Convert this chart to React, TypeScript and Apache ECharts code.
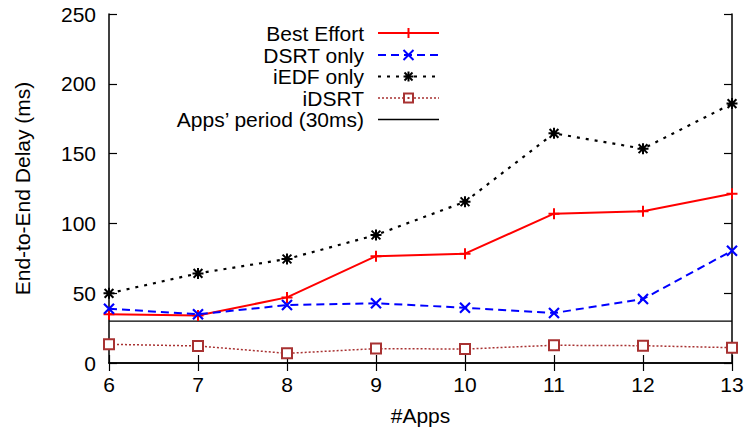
import React, { useEffect, useRef } from "react";
import * as echarts from "echarts";

const apps = [6, 7, 8, 9, 10, 11, 12, 13];
const bestEffort = [35, 34, 47, 76.5, 78.3, 107, 108.7, 121.2];
const dsrtOnly = [38.9, 34.9, 41.5, 42.8, 39.6, 35.8, 45.8, 80.4];
const iedfOnly = [49.9, 64.2, 74.5, 91.7, 115.5, 164.5, 153.5, 185.8];
const idsrt = [13.4, 12.2, 6.9, 10.3, 10, 12.7, 12.4, 11];
const period = 30;
const yTicks = { min: 0, max: 250, interval: 50 };
const seriesNames = ["Best Effort", "DSRT only", "iEDF only", "iDSRT", "Apps\u2019 period (30ms)"];

const FONT = "Liberation Sans, Arial, Helvetica, sans-serif";
const FS = 21;
const RED = "#ff0000";
const BLUE = "#0000ff";
const BLACK = "#000000";
const BROWN = "#a83232";

const PLUS = "path://M5,0 L5,10 M0,5 L10,5";
const CROSS = "path://M0,0 L10,10 M10,0 L0,10";
const STAR = "path://M5,0 L5,10 M0,5 L10,5 M1,1 L9,9 M9,1 L1,9";

function pairs(vals: number[]) {
  return apps.map((x, i) => [x, vals[i]]);
}

function legendGraphics() {
  const right = 364;
  const x1 = 378;
  const x2 = 439;
  const cx = 408.5;
  const rows = [33, 55, 76.5, 98, 119.5];
  const els: any[] = [];
  const styles = [
    { stroke: RED, lineWidth: 2, lineDash: null },
    { stroke: BLUE, lineWidth: 2, lineDash: [8, 5] },
    { stroke: BLACK, lineWidth: 2.2, lineDash: [3, 6] },
    { stroke: BROWN, lineWidth: 1.5, lineDash: [2, 2] },
    { stroke: BLACK, lineWidth: 1.3, lineDash: null },
  ];
  rows.forEach((y, i) => {
    els.push({
      type: "text",
      x: right,
      y,
      style: {
        text: seriesNames[i],
        fill: "#000",
        font: `${FS}px ${FONT}`,
        textAlign: "right",
        textVerticalAlign: "middle",
      },
    });
    els.push({
      type: "line",
      shape: { x1, y1: y, x2, y2: y },
      style: { stroke: styles[i].stroke, lineWidth: styles[i].lineWidth, lineDash: styles[i].lineDash },
    });
  });
  const s = 5;
  const mk = (a: number, b: number, c: number, d: number, stroke: string) => ({
    type: "line",
    shape: { x1: a, y1: b, x2: c, y2: d },
    style: { stroke, lineWidth: 2 },
  });
  els.push(mk(cx, rows[0] - s, cx, rows[0] + s, RED));
  els.push(mk(cx - s, rows[1] - s, cx + s, rows[1] + s, BLUE));
  els.push(mk(cx + s, rows[1] - s, cx - s, rows[1] + s, BLUE));
  els.push(mk(cx, rows[2] - s, cx, rows[2] + s, BLACK));
  els.push(mk(cx - s, rows[2], cx + s, rows[2], BLACK));
  els.push(mk(cx - 4, rows[2] - 4, cx + 4, rows[2] + 4, BLACK));
  els.push(mk(cx + 4, rows[2] - 4, cx - 4, rows[2] + 4, BLACK));
  els.push({
    type: "rect",
    shape: { x: cx - 4.5, y: rows[3] - 4.5, width: 9, height: 9 },
    style: { fill: "#fff", stroke: BROWN, lineWidth: 2 },
  });
  els.push({
    type: "rect",
    shape: { x: cx - 1, y: rows[3] - 1, width: 2, height: 2 },
    style: { fill: BROWN },
  });
  return els;
}

export default function App() {
  const ref = useRef<HTMLDivElement>(null);
  useEffect(() => {
    if (!ref.current) return;
    const chart = echarts.init(ref.current, undefined, { renderer: "svg" });
    const axisLine = { show: true, lineStyle: { color: "#000", width: 1.5 } };
    const tick = { show: true, inside: true, length: 8, lineStyle: { color: "#000", width: 1.2 } };
    const label = { color: "#000", fontSize: FS, fontFamily: FONT };
    chart.setOption({
      animation: false,
      backgroundColor: "#fff",
      grid: { left: 109, right: 19, top: 14, bottom: 74, containLabel: false },
      xAxis: [
        {
          type: "value",
          min: 6,
          max: 13,
          interval: 1,
          name: "#Apps",
          nameLocation: "middle",
          nameGap: 42,
          nameTextStyle: { color: "#000", fontSize: FS, fontFamily: FONT },
          axisLine,
          axisTick: tick,
          axisLabel: { ...label, margin: 11 },
          splitLine: { show: false },
        },
        {
          type: "value",
          position: "top",
          min: 6,
          max: 13,
          interval: 1,
          axisLine,
          axisTick: tick,
          axisLabel: { show: false },
          splitLine: { show: false },
        },
      ],
      yAxis: [
        {
          type: "value",
          min: yTicks.min,
          max: yTicks.max,
          interval: yTicks.interval,
          name: "End-to-End Delay (ms)",
          nameLocation: "middle",
          nameGap: 76,
          nameRotate: 90,
          nameTextStyle: { color: "#000", fontSize: FS, fontFamily: FONT },
          axisLine,
          axisTick: tick,
          axisLabel: { ...label, margin: 13 },
          splitLine: { show: false },
        },
        {
          type: "value",
          position: "right",
          min: yTicks.min,
          max: yTicks.max,
          interval: yTicks.interval,
          axisLine,
          axisTick: tick,
          axisLabel: { show: false },
          splitLine: { show: false },
        },
      ],
      series: [
        {
          name: seriesNames[0],
          type: "line",
          data: pairs(bestEffort),
          symbol: PLUS,
          symbolSize: 11,
          lineStyle: { color: RED, width: 2 },
          itemStyle: { color: RED, borderColor: RED, borderWidth: 2 },
          z: 3,
        },
        {
          name: seriesNames[1],
          type: "line",
          data: pairs(dsrtOnly),
          symbol: CROSS,
          symbolSize: 10,
          lineStyle: { color: BLUE, width: 2, type: [8, 5] },
          itemStyle: { color: BLUE, borderColor: BLUE, borderWidth: 2.2 },
          z: 4,
        },
        {
          name: seriesNames[2],
          type: "line",
          data: pairs(iedfOnly),
          symbol: STAR,
          symbolSize: 11,
          lineStyle: { color: BLACK, width: 2.2, type: [3, 6] },
          itemStyle: { color: BLACK, borderColor: BLACK, borderWidth: 2 },
          z: 5,
        },
        {
          name: seriesNames[3],
          type: "line",
          data: pairs(idsrt),
          symbol: "rect",
          symbolSize: 10,
          lineStyle: { color: BROWN, width: 1.5, type: [2, 2] },
          itemStyle: { color: "#fff", borderColor: BROWN, borderWidth: 2 },
          z: 6,
        },
        {
          name: seriesNames[4],
          type: "line",
          data: apps.map((x) => [x, period]),
          symbol: "none",
          lineStyle: { color: BLACK, width: 1.3 },
          z: 2,
        },
      ],
      graphic: legendGraphics(),
    });
    return () => chart.dispose();
  }, []);
  return <div ref={ref} style={{ width: 751, height: 437, position: "absolute", left: 0, top: 0 }} />;
}
